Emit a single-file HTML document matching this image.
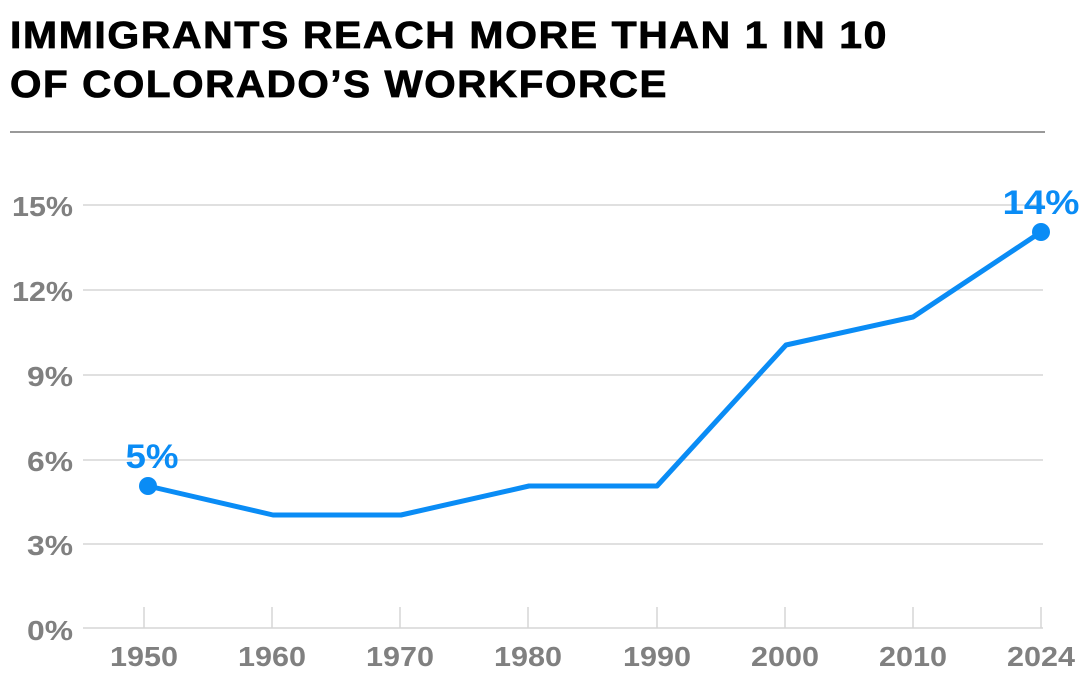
<!DOCTYPE html>
<html><head><meta charset="utf-8"><style>
html,body{margin:0;padding:0;background:#fff;}
svg{display:block;font-family:"Liberation Sans",sans-serif;}
</style></head><body>
<svg width="1092" height="692" viewBox="0 0 1092 692">
<text x="10" y="48" font-size="38" font-weight="bold" fill="#000" stroke="#000" stroke-width="0.8" letter-spacing="1.5" textLength="878" lengthAdjust="spacingAndGlyphs">IMMIGRANTS REACH MORE THAN 1 IN 10</text>
<text x="10" y="97" font-size="38" font-weight="bold" fill="#000" stroke="#000" stroke-width="0.8" letter-spacing="1.5" textLength="658" lengthAdjust="spacingAndGlyphs">OF COLORADO’S WORKFORCE</text>
<line x1="10" y1="132" x2="1045" y2="132" stroke="#999" stroke-width="2"/>
<g stroke="#d6d6d6" stroke-width="1.5">
<line x1="83" y1="205" x2="1043" y2="205"/>
<line x1="83" y1="290" x2="1043" y2="290"/>
<line x1="83" y1="375" x2="1043" y2="375"/>
<line x1="83" y1="460" x2="1043" y2="460"/>
<line x1="83" y1="544" x2="1043" y2="544"/>
<line x1="83" y1="628" x2="1043" y2="628"/>
<line x1="144" y1="607" x2="144" y2="628"/>
<line x1="272" y1="607" x2="272" y2="628"/>
<line x1="400" y1="607" x2="400" y2="628"/>
<line x1="528" y1="607" x2="528" y2="628"/>
<line x1="657" y1="607" x2="657" y2="628"/>
<line x1="785" y1="607" x2="785" y2="628"/>
<line x1="913" y1="607" x2="913" y2="628"/>
<line x1="1041" y1="607" x2="1041" y2="628"/>
</g>
<g font-size="28" font-weight="bold" fill="#808080" text-anchor="end">
<text x="73" y="216" textLength="61" lengthAdjust="spacingAndGlyphs">15%</text>
<text x="73" y="301" textLength="61" lengthAdjust="spacingAndGlyphs">12%</text>
<text x="73" y="386" textLength="46" lengthAdjust="spacingAndGlyphs">9%</text>
<text x="73" y="471" textLength="46" lengthAdjust="spacingAndGlyphs">6%</text>
<text x="73" y="555" textLength="46" lengthAdjust="spacingAndGlyphs">3%</text>
<text x="73" y="640" textLength="46" lengthAdjust="spacingAndGlyphs">0%</text>
</g>
<g font-size="28" font-weight="bold" fill="#808080" text-anchor="middle">
<text x="144" y="666" textLength="68" lengthAdjust="spacingAndGlyphs">1950</text>
<text x="272" y="666" textLength="68" lengthAdjust="spacingAndGlyphs">1960</text>
<text x="400" y="666" textLength="68" lengthAdjust="spacingAndGlyphs">1970</text>
<text x="528" y="666" textLength="68" lengthAdjust="spacingAndGlyphs">1980</text>
<text x="657" y="666" textLength="68" lengthAdjust="spacingAndGlyphs">1990</text>
<text x="785" y="666" textLength="68" lengthAdjust="spacingAndGlyphs">2000</text>
<text x="913" y="666" textLength="68" lengthAdjust="spacingAndGlyphs">2010</text>
<text x="1041" y="666" textLength="68" lengthAdjust="spacingAndGlyphs">2024</text>
</g>
<polyline fill="none" stroke="#0a8cf5" stroke-width="5" stroke-linejoin="round"
points="148,486 273,515 401,515 529,486 657,486 786,345 913,317 1041,232"/>
<circle cx="148" cy="486" r="9" fill="#0a8cf5"/>
<circle cx="1041" cy="232" r="9" fill="#0a8cf5"/>
<g font-size="34" font-weight="bold" fill="#0a8cf5" text-anchor="middle">
<text x="152" y="468" textLength="53" lengthAdjust="spacingAndGlyphs">5%</text>
<text x="1041" y="214" textLength="77" lengthAdjust="spacingAndGlyphs">14%</text>
</g>
</svg>
</body></html>
